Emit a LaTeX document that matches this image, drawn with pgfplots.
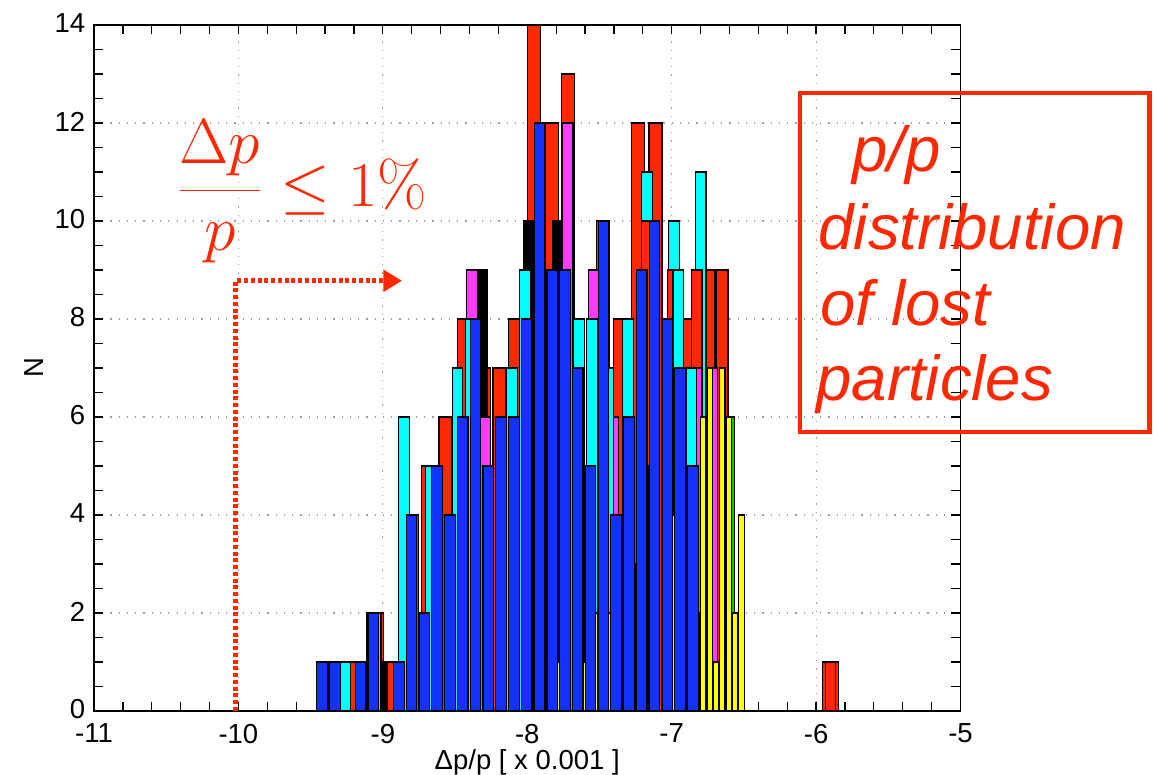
\RequirePackage{fix-cm}
\documentclass[border=0pt]{standalone}
\usepackage[no-math]{fontspec}
\setmainfont{Liberation Sans}
\usepackage{pgfplots}
\pgfplotsset{compat=1.18}
\usetikzlibrary{arrows.meta}

\definecolor{barblue}{RGB}{20,50,255}
\definecolor{barred}{RGB}{255,40,0}
\definecolor{barcyan}{RGB}{0,255,255}
\definecolor{barmag}{RGB}{255,60,255}
\definecolor{baryel}{RGB}{255,255,0}
\definecolor{bargreen}{RGB}{0,200,0}
\definecolor{annred}{RGB}{255,40,0}

\pgfplotsset{
  histbar/.style={ybar, bar shift=0pt, draw=black, line width=0.45pt},
}

\begin{document}
\begin{tikzpicture}
\path[use as bounding box] (-37.6pt,-25.6pt) rectangle (425.2pt,284.4pt);
\begin{axis}[
  scale only axis, width=346.6pt, height=274.4pt,
  xmin=-11, xmax=-5, ymin=0, ymax=14,
  xtick={-11,-10,-9,-8,-7,-6,-5},
  xticklabels={-11,-10,-9,-8,-7,-6,-5},
  ytick={0,2,4,6,8,10,12,14},
  yticklabels={0,2,4,6,8,10,12,14},
  minor x tick num=4, minor y tick num=3,
  tick align=inside, tick pos=both,
  major tick length=3.6pt, minor tick length=3.6pt,
  tick style={black, line width=0.5pt},
  axis line style={black, line width=0.6pt},
  grid=major,
  major grid style={gray!75, line width=0.45pt, dash pattern=on 0.5pt off 2.8pt},
  tick label style={font=\fontsize{11}{13}\selectfont},
  xticklabel style={yshift=-1.6pt},
  yticklabel style={yshift=0.6pt},
  label style={font=\fontsize{11}{13}\selectfont},
  xlabel={Δp/p [ x 0.001 ]},
  xlabel style={yshift=4.4pt},
  ylabel={N},
  ylabel style={yshift=-2.4pt},
  clip=false,
]

% red histogram (back layer)
\addplot[histbar, bar width=0.09, fill=barred] coordinates {
  (-9.23,1) (-9.04,2) (-8.93,1) (-8.80,4) (-8.685,5) (-8.566,6) (-8.44,8)
  (-8.30,7) (-8.192,7) (-8.087,8) (-7.955,14) (-7.83,12) (-7.715,13)
  (-7.473,10) (-7.356,8) (-7.232,12) (-7.112,12) (-6.90,8) (-6.737,9)
  (-6.655,9) (-5.91,1) (-5.89,1)
};
% black histogram
\addplot[histbar, bar width=0.07, fill=black] coordinates {
  (-9.375,1) (-9.08,2) (-9.0,1) (-8.311,9) (-7.99,10) (-7.79,10)
};
% cyan histogram (behind the second red set)
\addplot[histbar, bar width=0.075, fill=barcyan] coordinates {
  (-7.173,11) (-6.985,10) (-6.8,11)
};
% second red set
\addplot[histbar, bar width=0.07, fill=barred] coordinates {
  (-7.175,10) (-6.995,9) (-6.825,9)
};
% magenta histogram
\addplot[histbar, bar width=0.073, fill=barmag] coordinates {
  (-8.383,9) (-8.29,6) (-7.72,12) (-7.54,9) (-7.405,6) (-6.83,7) (-6.72,7)
};
% cyan histogram
\addplot[histbar, bar width=0.075, fill=barcyan] coordinates {
  (-9.262,1) (-9.05,2) (-8.855,6) (-8.668,5) (-8.483,7) (-8.39,8)
  (-8.105,7) (-8.016,9) (-7.643,8) (-7.55,8) (-7.44,7) (-7.30,8)
  (-6.953,9) (-6.863,7)
};
% green histogram
\addplot[histbar, bar width=0.037, fill=bargreen] coordinates {
  (-6.585,6)
};
% yellow histogram (finer bins)
\addplot[histbar, bar width=0.037, fill=baryel] coordinates {
  (-7.793,1) (-7.617,1) (-7.529,2) (-7.441,2) (-7.265,3) (-7.177,5)
  (-7.001,4) (-6.913,3) (-6.825,2) (-6.781,6) (-6.737,7) (-6.693,1)
  (-6.649,7) (-6.605,6) (-6.561,2) (-6.517,4)
};
% blue histogram (front layer)
\addplot[histbar, bar width=0.073, fill=barblue] coordinates {
  (-9.4200,1) (-9.3315,1) (-9.1545,1) (-9.0660,2) (-8.8890,1) (-8.8005,4)
  (-8.7120,2) (-8.6235,5) (-8.5350,4) (-8.4465,6) (-8.3580,8) (-8.2695,5)
  (-8.1810,6) (-8.0925,6) (-8.0040,8) (-7.9155,12) (-7.8270,9) (-7.7385,9)
  (-7.6500,7) (-7.5615,5) (-7.4730,10) (-7.3845,4) (-7.2960,6) (-7.2075,9)
  (-7.1190,10) (-7.0305,8) (-6.9420,7) (-6.8535,5)
};

% momentum acceptance annotation
\node[anchor=west, inner sep=0pt, text=annred] at (axis cs:-10.432,10.6)
  {\fontsize{25.5}{30}\selectfont$\displaystyle\frac{\Delta p}{p}\leq 1\%$};
\draw[annred, line width=1.9pt, dash pattern=on 1.6pt off 1.1pt,
      -{Triangle[length=7.5pt,width=8.5pt]}]
  (axis cs:-10.02,0) -- (axis cs:-10.02,8.78) -- (axis cs:-8.867,8.78);

% boxed caption
\draw[annred, line width=1.9pt] (axis cs:-6.111,5.694) rectangle (axis cs:-3.69,12.61);
\node[anchor=base west, inner sep=0pt, text=annred,
      font=\fontsize{25.4}{30}\selectfont\itshape] at (axis cs:-5.751,11.0) {p/p};
\node[anchor=base west, inner sep=0pt, text=annred,
      font=\fontsize{25.4}{30}\selectfont\itshape] at (axis cs:-5.986,9.41) {distribution};
\node[anchor=base west, inner sep=0pt, text=annred,
      font=\fontsize{25.4}{30}\selectfont\itshape] at (axis cs:-5.972,7.857) {of lost};
\node[anchor=base west, inner sep=0pt, text=annred,
      font=\fontsize{25.4}{30}\selectfont\itshape] at (axis cs:-6.0,6.327) {particles};
\end{axis}
\end{tikzpicture}
\end{document}
